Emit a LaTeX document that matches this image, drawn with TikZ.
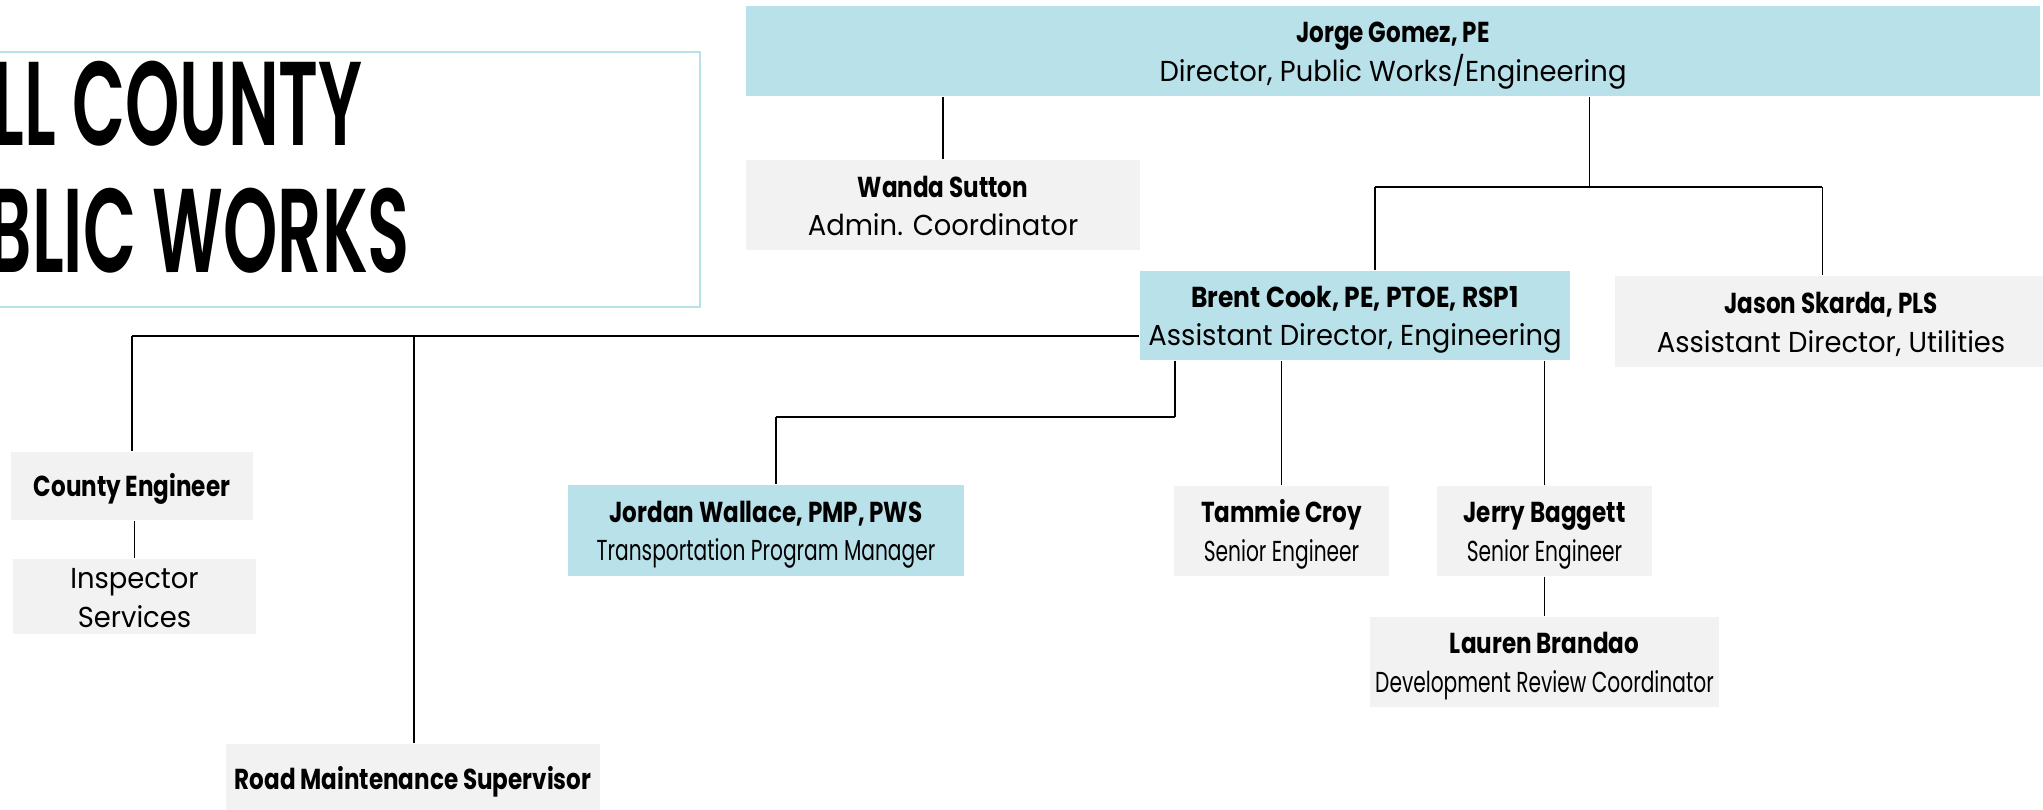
\documentclass[tikz,border=0pt]{standalone}
\usepackage{fontspec}
\setmainfont{Poppins}
\newfontfamily\bookf[FakeStretch=0.95]{Poppins}
\newfontfamily\condb[FakeStretch=0.80]{Poppins}
\newfontfamily\condbw[FakeStretch=0.865]{Poppins}
\newfontfamily\condm[FakeStretch=0.70]{Poppins}
\IfFontExistsTF{Poppins SemiBold}
  {\newfontfamily\titlefam[FakeStretch=0.58]{Poppins SemiBold}\newcommand{\titlef}{\titlefam}}
  {\newfontfamily\titlefam[FakeStretch=0.56]{Poppins}\newcommand{\titlef}{\titlefam\bfseries}}
\definecolor{boxblue}{HTML}{B9E1EA}
\definecolor{boxgray}{HTML}{F2F2F2}
\newcommand{\tp}{\rule{0pt}{8.5pt}}
\newcommand{\bt}{\rule[-2pt]{0pt}{2pt}}
\newcommand{\nm}[1]{{\condb\bfseries\tp #1}}
\newcommand{\nmw}[1]{{\condbw\bfseries\tp #1}}
\newcommand{\bk}[1]{{\bookf #1\bt}}
\newcommand{\cm}[1]{{\condm #1\bt}}
\tikzset{
  card/.style={inner sep=0pt, align=center, font=\fontsize{8.2}{11}\selectfont},
  bluecard/.style={card, fill=boxblue},
  graycard/.style={card, fill=boxgray},
  conn/.style={draw=black, line width=0.3pt},
  connthick/.style={draw=black, line width=0.5pt},
  titletext/.style={anchor=base west, inner sep=0pt, font=\titlef\fontsize{33.9}{40}\selectfont},
}
\begin{document}
\begin{tikzpicture}[x=0.01cm,y=-0.01cm]
\useasboundingbox (0,0) rectangle (2043,810);
\clip (0,0) rectangle (2043,810);

% title frame
\draw[draw=boxblue, line width=0.55pt] (-20,52) rectangle (700,307);
\node[titletext] (t1) at (-8,146) {LL COUNTY};
\node[titletext] (t2) at (-13,273) {BLIC WORKS};

% boxes
\node[bluecard, minimum width=12.94cm, minimum height=0.90cm] (jorge) at (1393,51)
  {\nm{Jorge Gomez, PE}\\ \bk{Director, Public Works/Engineering}};
\node[graycard, minimum width=3.94cm, minimum height=0.90cm] (wanda) at (943,205)
  {\nm{Wanda Sutton}\\ \bk{Admin. Coordinator}};
\node[bluecard, minimum width=4.30cm, minimum height=0.89cm] (brent) at (1355,315.5)
  {\nmw{Brent Cook, PE, PTOE, RSP1}\\ \bk{Assistant Director, Engineering}};
\node[graycard, minimum width=4.32cm, minimum height=0.91cm] (jason) at (1831,321.5)
  {\nm{Jason Skarda, PLS}\\ \bk{Assistant Director, Utilities}};
\node[graycard, minimum width=2.42cm, minimum height=0.68cm] (county) at (132,486)
  {\nm{County Engineer}};
\node[graycard, minimum width=2.43cm, minimum height=0.69cm] (inspector) at (134.5,596.5)
  {{\bookf\tp Inspector}\\ \bk{Services}};
\node[graycard, minimum width=3.74cm, minimum height=0.68cm] (road) at (413,778)
  {\nm{Road Maintenance Supervisor}};
\node[bluecard, minimum width=3.96cm, minimum height=0.91cm] (jordan) at (766,530.5)
  {\nm{Jordan Wallace, PMP, PWS}\\ \cm{Transportation Program Manager}};
\node[graycard, minimum width=2.15cm, minimum height=0.90cm] (tammie) at (1281.5,531)
  {\nm{Tammie Croy}\\ \cm{Senior Engineer}};
\node[graycard, minimum width=2.15cm, minimum height=0.90cm] (jerry) at (1544.5,531)
  {\nm{Jerry Baggett}\\ \cm{Senior Engineer}};
\node[graycard, minimum width=3.49cm, minimum height=0.90cm] (lauren) at (1544.5,662)
  {\nm{Lauren Brandao}\\ \cm{Development Review Coordinator}};

% connectors
\draw[conn] (wanda.north) -- (wanda.north |- jorge.south);
\coordinate (s1) at (1589,187);
\coordinate (bl) at (1375,187);
\coordinate (br) at (1822,187);
\draw[conn] (jorge.south -| s1) -- (s1);
\draw[connthick] (bl) -- (br);
\draw[conn] (bl) -- (bl |- brent.north);
\draw[conn] (br) -- (br |- jason.north);

\coordinate (lh) at (132,336);
\coordinate (rt) at (414,336);
\draw[connthick] (lh -| brent.west) -- (lh);
\draw[conn] (lh) -- (county.north);
\draw[conn] (rt) -- (rt |- road.north);

\coordinate (j1) at (1175,417);
\coordinate (j2) at (776,417);
\draw[conn] (j1 |- brent.south) -- (j1);
\draw[connthick] (j1) -- (j2);
\draw[conn] (j2) -- (j2 |- jordan.north);

\draw[conn] (tammie.north) -- (tammie.north |- brent.south);
\draw[conn] (jerry.north) -- (jerry.north |- brent.south);
\draw[conn] (jerry.south) -- (jerry.south |- lauren.north);
\draw[conn] (inspector.north) -- (inspector.north |- county.south);
\end{tikzpicture}
\end{document}
